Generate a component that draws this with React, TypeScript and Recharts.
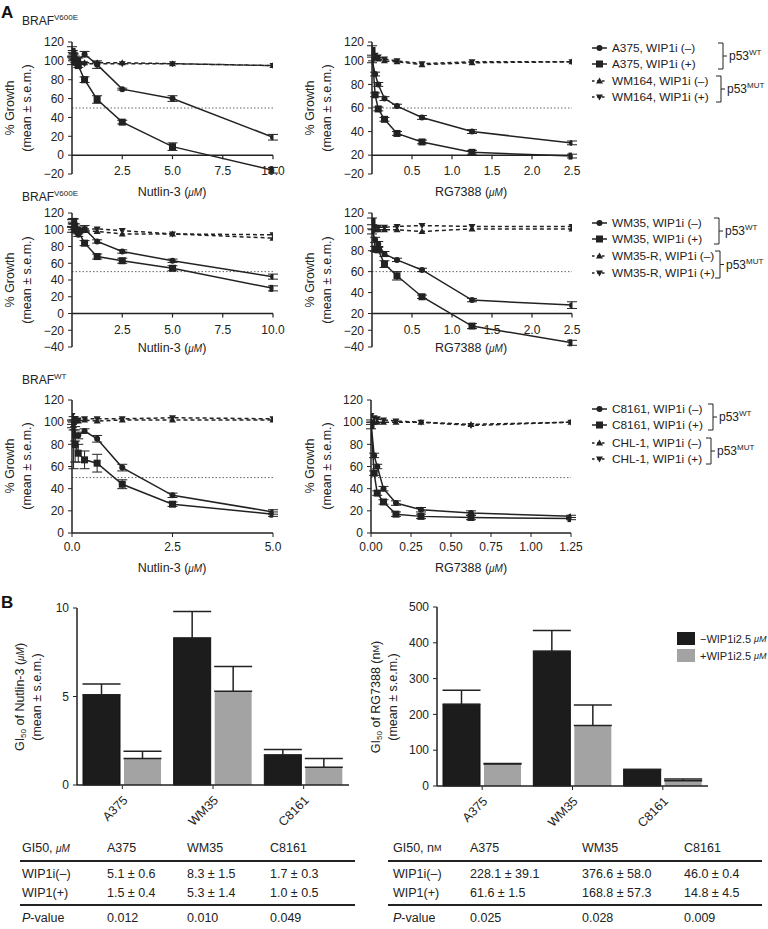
import React from "react";
import { LineChart, Line, XAxis, YAxis, ReferenceLine, ErrorBar, BarChart, Bar } from "recharts";

const FONT = '"Liberation Sans", Arial, Helvetica, sans-serif';
const INK = "#222";

// ---- panel A, row 1: BRAF V600E, A375 (p53 WT) vs WM164 (p53 MUT)
const nutDose1 = [0, 0.039, 0.078, 0.156, 0.3125, 0.625, 1.25, 2.5, 5, 10];
const a375NutMinus = [100, 106, 105, 103, 101, 107, 96, 70, 60, 19];
const a375NutMinusErr = [4, 3, 3, 2, 2, 3, 4, 1, 3, 3];
const a375NutPlus = [110, 108, 104, 100, 95, 80, 59, 35, 9, -16];
const a375NutPlusErr = [5, 3, 3, 2, 2, 3, 4, 2, 4, 3];
const wm164NutMinus = [100, 99, 99, 98, 98, 98, 98, 98, 97, 95];
const wm164NutPlus = [103, 100, 98, 97, 97, 97, 97, 97, 97, 95];

const rgDose1 = [0, 0.039, 0.078, 0.156, 0.3125, 0.625, 1.25, 2.5];
const a375RgMinus = [101, 86, 75, 60, 52, 40, 25, 13];
const a375RgMinusErr = [3, 2, 2, 2, 2, 2, 2, 2];
const a375RgPlus = [111, 64, 49, 38, 23, 14, 3, -1];
const a375RgPlusErr = [5, 2, 2, 2, 2, 2, 2, 2];
const wm164RgMinus = [104, 103, 102, 100, 99, 96, 98, 99];
const wm164RgPlus = [108, 106, 104, 102, 100, 97, 99, 99];

// ---- row 2: BRAF V600E, WM35 vs WM35-R
const nutDose2 = [0, 0.039, 0.078, 0.156, 0.3125, 0.625, 1.25, 2.5, 5, 10];
const wm35NutMinus = [100, 110, 110, 104, 94, 101, 86, 74, 63, 44];
const wm35NutMinusErr = [3, 3, 3, 3, 2, 4, 2, 2, 2, 3];
const wm35NutPlus = [108, 106, 110, 100, 98, 84, 68, 63, 54, 30];
const wm35NutPlusErr = [4, 3, 3, 3, 3, 3, 3, 3, 3, 3];
const wm35rNutMinus = [100, 100, 100, 99, 99, 99, 98, 95, 95, 90];
const wm35rNutPlus = [104, 103, 102, 102, 101, 101, 101, 99, 95, 94];

const rgDose2 = [0, 0.039, 0.078, 0.156, 0.3125, 0.625, 1.25, 2.5];
const wm35RgMinus = [98, 88, 83, 71, 64, 52, 16, 10];
const wm35RgMinusErr = [3, 3, 3, 3, 2, 2, 2, 4];
const wm35RgPlus = [110, 77, 76, 59, 45, 20, -15, -35];
const wm35RgPlusErr = [4, 3, 3, 4, 5, 2, 3, 3];
const wm35rRgMinus = [100, 100, 100, 100, 100, 98, 101, 101];
const wm35rRgPlus = [104, 103, 103, 103, 104, 105, 104, 104];

// ---- row 3: BRAF WT, C8161 vs CHL-1
const nutDose3 = [0, 0.039, 0.078, 0.156, 0.3125, 0.625, 1.25, 2.5, 5];
const c8161NutMinus = [100, 99, 88, 88, 92, 85, 59, 34, 19];
const c8161NutMinusErr = [2, 6, 5, 3, 2, 3, 3, 2, 2];
const c8161NutPlus = [98, 80, 80, 72, 66, 63, 44, 26, 17];
const c8161NutPlusErr = [3, 22, 16, 8, 8, 8, 4, 2, 2];
const chl1NutMinus = [102, 101, 101, 101, 102, 101, 102, 102, 102];
const chl1NutPlus = [106, 103, 103, 102, 103, 103, 103, 104, 103];

const rgDose3 = [0, 0.0195, 0.039, 0.078, 0.156, 0.3125, 0.625, 1.25];
const c8161RgMinus = [100, 70, 60, 40, 27, 21, 18, 15];
const c8161RgMinusErr = [2, 2, 2, 2, 2, 2, 2, 1];
const c8161RgPlus = [97, 54, 36, 28, 17, 15, 14, 13];
const c8161RgPlusErr = [3, 2, 2, 2, 2, 2, 2, 1];
const chl1RgMinus = [100, 100, 100, 100, 100, 100, 98, 100];
const chl1RgPlus = [106, 104, 103, 102, 101, 100, 97, 100];

// ---- axis ticks (the RG7388 panels carry shifted labels in the source)
const yTicks1 = [-20, 0, 20, 40, 60, 80, 100, 120];
const yTicks2 = [-40, -20, 0, 20, 40, 60, 80, 100, 120];
const yTicks3 = [0, 20, 40, 60, 80, 100, 120];
const rgYTicks1 = [-20, 0, 25, 50, 75, 100, 120];
const rgYLabels1 = ["−20", "20", "40", "60", "80", "100", "120"];
const rgYTicks2 = [-40, -20, 0, 25, 50, 75, 100, 120];
const rgYLabels2 = ["−40", "−20", "20", "40", "60", "80", "100", "120"];
const nutXTicks12 = [2.5, 5, 7.5, 10];
const rgXTicks12 = [0.5, 1, 1.5, 2, 2.5];
const nutXTicks3 = [0, 2.5, 5];
const rgXTicks3 = [0, 0.25, 0.5, 0.75, 1, 1.25];

// ---- panel B
const cellLines = ["A375", "WM35", "C8161"];
const nutGiMinus = [5.1, 8.3, 1.7];
const nutGiMinusSem = [0.6, 1.5, 0.3];
const nutGiPlus = [1.5, 5.3, 1.0];
const nutGiPlusSem = [0.4, 1.4, 0.5];
const nutPValues = ["0.012", "0.010", "0.049"];
const rgGiMinus = [228.1, 376.6, 46.0];
const rgGiMinusSem = [39.1, 58.0, 0.4];
const rgGiPlus = [61.6, 168.8, 14.8];
const rgGiPlusSem = [1.5, 57.3, 4.5];
const rgPValues = ["0.025", "0.028", "0.009"];

const legend1 = ["A375, WIP1i (–)", "A375, WIP1i (+)", "WM164, WIP1i (–)", "WM164, WIP1i (+)"];
const legend2 = ["WM35, WIP1i (–)", "WM35, WIP1i (+)", "WM35-R, WIP1i (–)", "WM35-R, WIP1i (+)"];
const legend3 = ["C8161, WIP1i (–)", "C8161, WIP1i (+)", "CHL-1, WIP1i (–)", "CHL-1, WIP1i (+)"];

type MarkerKind = "circle" | "square" | "up" | "down";
const MARKERS: MarkerKind[] = ["circle", "square", "up", "down"];

function Marker({ kind, cx, cy }: { kind: MarkerKind; cx: number; cy: number }) {
  if (kind === "circle") return <circle cx={cx} cy={cy} r={3} fill={INK} />;
  if (kind === "square") return <rect x={cx - 3.5} y={cy - 3.5} width={7} height={7} fill={INK} />;
  if (kind === "up") return <path d={`M${cx},${cy - 3.5}L${cx + 3.5},${cy + 2.5}L${cx - 3.5},${cy + 2.5}Z`} fill={INK} />;
  return <path d={`M${cx},${cy + 3.5}L${cx + 3.5},${cy - 2.5}L${cx - 3.5},${cy - 2.5}Z`} fill={INK} />;
}

const dotOf = (kind: MarkerKind) => (p: any) => {
  if (p.cx == null || p.cy == null) return <g key={p.index} />;
  return (
    <g key={p.index}>
      <Marker kind={kind} cx={p.cx} cy={p.cy} />
    </g>
  );
};

const minusFmt = (v: number) => String(v).replace("-", "−");
const lookupFmt = (ticks: number[], labels: string[]) => (v: number) => labels[ticks.indexOf(v)] ?? "";

// x tick drawn on the zero line rather than the plot bottom
const ZeroTick = (props: any) => {
  const { x, y, payload, lift, fmt } = props;
  const zy = y - lift;
  return (
    <g>
      <line x1={x} x2={x} y1={zy} y2={zy + 4} stroke={INK} strokeWidth={1.2} />
      <text x={x} y={zy + 20} textAnchor="middle" fontSize={12} fill={INK} fontFamily={FONT}>
        {fmt(payload.value)}
      </text>
    </g>
  );
};

type Series = { key: string; err?: string; dashed?: boolean; kind: MarkerKind };

function LinePanel(props: {
  plotLeft: number;
  plotTop: number;
  plotW: number;
  plotH: number;
  data: any[];
  series: Series[];
  xDomain: [number, number];
  xTicks: number[];
  xFmt: (v: number) => string;
  yDomain: [number, number];
  yTicks: number[];
  yFmt: (v: number) => string;
  zeroAxis: boolean;
}) {
  const { plotLeft, plotTop, plotW, plotH, data, series, xDomain, xTicks, xFmt, yDomain, yTicks, yFmt, zeroAxis } = props;
  const yw = 45;
  const mt = 6;
  const mr = 14;
  const xh = 30;
  const lift = zeroAxis ? (plotH * (0 - yDomain[0])) / (yDomain[1] - yDomain[0]) : 0;
  return (
    <div style={{ position: "absolute", left: plotLeft - yw, top: plotTop - mt }}>
      <LineChart width={yw + plotW + mr} height={mt + plotH + xh} data={data} margin={{ top: mt, right: mr, bottom: 0, left: 0 }}>
        {zeroAxis ? (
          <XAxis
            dataKey="dose"
            type="number"
            domain={xDomain}
            ticks={xTicks}
            interval={0}
            allowDataOverflow
            height={xh}
            axisLine={false}
            tickLine={false}
            tickSize={0}
            tickMargin={0}
            tick={<ZeroTick lift={lift} fmt={xFmt} />}
          />
        ) : (
          <XAxis
            dataKey="dose"
            type="number"
            domain={xDomain}
            ticks={xTicks}
            interval={0}
            allowDataOverflow
            height={xh}
            axisLine={{ stroke: INK, strokeWidth: 1.5 }}
            tickLine={{ stroke: INK }}
            tickSize={4}
            tickMargin={5}
            tick={{ fontSize: 12, fill: INK, fontFamily: FONT }}
            tickFormatter={xFmt}
          />
        )}
        <YAxis
          type="number"
          domain={yDomain}
          ticks={yTicks}
          interval={0}
          allowDataOverflow
          width={yw}
          axisLine={{ stroke: INK, strokeWidth: 1.5 }}
          tickLine={{ stroke: INK }}
          tickSize={4}
          tickMargin={4}
          tick={{ fontSize: 12, fill: INK, fontFamily: FONT }}
          tickFormatter={yFmt}
        />
        <ReferenceLine y={50} stroke="#666" strokeWidth={1} strokeDasharray="1.5 2" />
        {zeroAxis && <ReferenceLine y={0} stroke={INK} strokeWidth={1.5} />}
        {series.map((s) => (
          <Line
            key={s.key}
            dataKey={s.key}
            type="linear"
            stroke={INK}
            strokeWidth={1.5}
            strokeDasharray={s.dashed ? "4 3" : undefined}
            dot={dotOf(s.kind)}
            activeDot={false}
            isAnimationActive={false}
          >
            {s.err && <ErrorBar dataKey={s.err} width={5} stroke={INK} strokeWidth={1} direction="y" />}
          </Line>
        ))}
      </LineChart>
    </div>
  );
}

const CatTick = (props: any) => {
  const { x, y, payload } = props;
  const ax = x + 6;
  const ay = y + 10;
  return (
    <text x={ax} y={ay} transform={`rotate(-45 ${ax} ${ay})`} textAnchor="end" fontSize={12.5} fill={INK} fontFamily={FONT}>
      {payload.value}
    </text>
  );
};

function GiBars(props: { plotLeft: number; plotTop: number; plotW: number; plotH: number; data: any[]; yMax: number; yTicks: number[] }) {
  const { plotLeft, plotTop, plotW, plotH, data, yMax, yTicks } = props;
  const yw = 45;
  const mt = 8;
  const mr = 10;
  const xh = 50;
  return (
    <div style={{ position: "absolute", left: plotLeft - yw, top: plotTop - mt }}>
      <BarChart
        width={yw + plotW + mr}
        height={mt + plotH + xh}
        data={data}
        margin={{ top: mt, right: mr, bottom: 0, left: 0 }}
        barCategoryGap={6}
        barGap={4}
      >
        <XAxis
          dataKey="cell"
          height={xh}
          interval={0}
          axisLine={{ stroke: INK, strokeWidth: 1.5 }}
          tickLine={{ stroke: INK }}
          tickSize={4}
          tick={<CatTick />}
        />
        <YAxis
          type="number"
          domain={[0, yMax]}
          ticks={yTicks}
          interval={0}
          width={yw}
          axisLine={{ stroke: INK, strokeWidth: 1.5 }}
          tickLine={{ stroke: INK }}
          tickSize={4}
          tickMargin={4}
          tick={{ fontSize: 12, fill: INK, fontFamily: FONT }}
        />
        <Bar dataKey="minus" fill="#1c1c1c" stroke="#111" isAnimationActive={false}>
          <ErrorBar dataKey="minusErr" width={19} stroke={INK} strokeWidth={1.5} direction="y" />
        </Bar>
        <Bar dataKey="plus" fill="#a3a3a3" isAnimationActive={false}>
          <ErrorBar dataKey="plusErr" width={19} stroke={INK} strokeWidth={1.5} direction="y" />
        </Bar>
      </BarChart>
    </div>
  );
}

const rows = (dose: number[], cols: Record<string, number[]>) =>
  dose.map((d, i) => {
    const r: Record<string, number> = { dose: d };
    for (const k of Object.keys(cols)) r[k] = cols[k][i];
    return r;
  });

const barRows = (m: number[], me: number[], p: number[], pe: number[]) =>
  cellLines.map((c, i) => ({ cell: c, minus: m[i], minusErr: [0, me[i]], plus: p[i], plusErr: [0, pe[i]] }));

const SERIES: Series[] = [
  { key: "m", err: "me", kind: "circle" },
  { key: "p", err: "pe", kind: "square" },
  { key: "rm", dashed: true, kind: "up" },
  { key: "rp", dashed: true, kind: "down" },
];

function GrowthLabel({ x, cy }: { x: number; cy: number }) {
  return (
    <g fontSize={12.5} fill={INK}>
      <text transform={`translate(${x},${cy}) rotate(-90)`} textAnchor="middle" dominantBaseline="central">
        % Growth
      </text>
      <text transform={`translate(${x + 17},${cy}) rotate(-90)`} textAnchor="middle" dominantBaseline="central">
        (mean ± s.e.m.)
      </text>
    </g>
  );
}

function AxisTitle({ x, y, drug }: { x: number; y: number; drug: string }) {
  return (
    <text x={x} y={y} textAnchor="middle" dominantBaseline="central" fontSize={12.5} fill={INK}>
      {drug} (<tspan fontStyle="italic" fontSize={10}>μM</tspan>)
    </text>
  );
}

function Braf({ x, y, sup }: { x: number; y: number; sup: string }) {
  return (
    <text x={x} y={y} fontSize={12} fill={INK}>
      BRAF
      <tspan fontSize={8} dy={-5}>
        {sup}
      </tspan>
    </text>
  );
}

function Bracket({ x, y1, y2, label }: { x: number; y1: number; y2: number; label: string }) {
  const ym = (y1 + y2) / 2;
  return (
    <g>
      <path d={`M${x},${y1}H${x + 5}V${y2}H${x}M${x + 5},${ym}H${x + 9}`} fill="none" stroke={INK} strokeWidth={1} />
      <text x={x + 11} y={ym + 4} fontSize={12} fill={INK}>
        p53
        <tspan fontSize={8} dy={-5}>
          {label}
        </tspan>
      </text>
    </g>
  );
}

function SeriesLegend({ ys, labels, wtX, mutX }: { ys: number[]; labels: string[]; wtX: number; mutX: number }) {
  return (
    <g>
      {labels.map((l, i) => (
        <g key={l}>
          <line x1={592} x2={607} y1={ys[i]} y2={ys[i]} stroke={INK} strokeWidth={1.5} strokeDasharray={i > 1 ? "2.5 2.5" : undefined} />
          <Marker kind={MARKERS[i]} cx={599.5} cy={ys[i]} />
          <text x={612} y={ys[i]} dominantBaseline="central" fontSize={11.8} fill={INK}>
            {l}
          </text>
        </g>
      ))}
      <Bracket x={wtX} y1={ys[0] - 5} y2={ys[1] + 5} label="WT" />
      <Bracket x={mutX} y1={ys[2] - 5} y2={ys[3] + 5} label="MUT" />
    </g>
  );
}

function GiTable(props: { cols: number[]; x1: number; x2: number; unit: React.ReactNode; m: number[]; me: number[]; p: number[]; pe: number[]; pv: string[] }) {
  const { cols, x1, x2, unit, m, me, p, pe, pv } = props;
  const fmt = (v: number, e: number) => `${v.toFixed(1)} ± ${e.toFixed(1)}`;
  const rowsY = [848, 874, 893, 918];
  const cells: React.ReactNode[][] = [
    [<tspan key="u">GI50, {unit}</tspan>, ...cellLines],
    ["WIP1i(–)", ...m.map((v, i) => fmt(v, me[i]))],
    ["WIP1(+)", ...p.map((v, i) => fmt(v, pe[i]))],
    [<tspan key="pv"><tspan fontStyle="italic">P</tspan>-value</tspan>, ...pv],
  ];
  return (
    <g fontSize={12.5} fill={INK}>
      {cells.map((r, ri) =>
        r.map((c, ci) => (
          <text key={`${ri}-${ci}`} x={cols[ci]} y={rowsY[ri]} dominantBaseline="central">
            {c}
          </text>
        ))
      )}
      <line x1={x1} x2={x2} y1={861} y2={861} stroke={INK} strokeWidth={1.8} />
      <line x1={x1} x2={x2} y1={905} y2={905} stroke={INK} strokeWidth={1.8} />
    </g>
  );
}

export default function App() {
  const d1n = rows(nutDose1, { m: a375NutMinus, me: a375NutMinusErr, p: a375NutPlus, pe: a375NutPlusErr, rm: wm164NutMinus, rp: wm164NutPlus });
  const d1r = rows(rgDose1, { m: a375RgMinus, me: a375RgMinusErr, p: a375RgPlus, pe: a375RgPlusErr, rm: wm164RgMinus, rp: wm164RgPlus });
  const d2n = rows(nutDose2, { m: wm35NutMinus, me: wm35NutMinusErr, p: wm35NutPlus, pe: wm35NutPlusErr, rm: wm35rNutMinus, rp: wm35rNutPlus });
  const d2r = rows(rgDose2, { m: wm35RgMinus, me: wm35RgMinusErr, p: wm35RgPlus, pe: wm35RgPlusErr, rm: wm35rRgMinus, rp: wm35rRgPlus });
  const d3n = rows(nutDose3, { m: c8161NutMinus, me: c8161NutMinusErr, p: c8161NutPlus, pe: c8161NutPlusErr, rm: chl1NutMinus, rp: chl1NutPlus });
  const d3r = rows(rgDose3, { m: c8161RgMinus, me: c8161RgMinusErr, p: c8161RgPlus, pe: c8161RgPlusErr, rm: chl1RgMinus, rp: chl1RgPlus });

  const f1 = (v: number) => v.toFixed(1);
  const f2 = (v: number) => v.toFixed(2);

  return (
    <div style={{ position: "absolute", left: 0, top: 0, width: 768, height: 929, background: "#fff", fontFamily: FONT, overflow: "hidden" }}>
      <style>{`.recharts-surface{overflow:visible}`}</style>

      <LinePanel plotLeft={72} plotTop={42} plotW={201} plotH={132} data={d1n} series={SERIES}
        xDomain={[0, 10]} xTicks={nutXTicks12} xFmt={f1} yDomain={[-20, 120]} yTicks={yTicks1} yFmt={minusFmt} zeroAxis />
      <LinePanel plotLeft={372} plotTop={42} plotW={200} plotH={132} data={d1r} series={SERIES}
        xDomain={[0, 2.5]} xTicks={rgXTicks12} xFmt={f1} yDomain={[-20, 120]} yTicks={rgYTicks1} yFmt={lookupFmt(rgYTicks1, rgYLabels1)} zeroAxis />

      <LinePanel plotLeft={72} plotTop={213} plotW={201} plotH={134} data={d2n} series={SERIES}
        xDomain={[0, 10]} xTicks={nutXTicks12} xFmt={f1} yDomain={[-40, 120]} yTicks={yTicks2} yFmt={minusFmt} zeroAxis />
      <LinePanel plotLeft={372} plotTop={213} plotW={200} plotH={134} data={d2r} series={SERIES}
        xDomain={[0, 2.5]} xTicks={rgXTicks12} xFmt={f1} yDomain={[-40, 120]} yTicks={rgYTicks2} yFmt={lookupFmt(rgYTicks2, rgYLabels2)} zeroAxis />

      <LinePanel plotLeft={72} plotTop={400} plotW={201} plotH={133} data={d3n} series={SERIES}
        xDomain={[0, 5]} xTicks={nutXTicks3} xFmt={f1} yDomain={[0, 120]} yTicks={yTicks3} yFmt={minusFmt} zeroAxis={false} />
      <LinePanel plotLeft={371} plotTop={400} plotW={200} plotH={133} data={d3r} series={SERIES}
        xDomain={[0, 1.25]} xTicks={rgXTicks3} xFmt={f2} yDomain={[0, 120]} yTicks={yTicks3} yFmt={minusFmt} zeroAxis={false} />

      <GiBars plotLeft={77} plotTop={608} plotW={272} plotH={177} data={barRows(nutGiMinus, nutGiMinusSem, nutGiPlus, nutGiPlusSem)} yMax={10} yTicks={[0, 5, 10]} />
      <GiBars plotLeft={437} plotTop={607} plotW={271} plotH={179} data={barRows(rgGiMinus, rgGiMinusSem, rgGiPlus, rgGiPlusSem)} yMax={500} yTicks={[0, 100, 200, 300, 400, 500]} />

      <svg width={768} height={929} style={{ position: "absolute", left: 0, top: 0, pointerEvents: "none" }} fontFamily={FONT}>
        <text x={1} y={18} fontSize={17} fontWeight="bold" fill="#111">A</text>
        <text x={1} y={608} fontSize={17} fontWeight="bold" fill="#111">B</text>

        <Braf x={22} y={25} sup="V600E" />
        <Braf x={22} y={201} sup="V600E" />
        <Braf x={22} y={384} sup="WT" />

        <GrowthLabel x={10} cy={108} />
        <GrowthLabel x={310} cy={108} />
        <GrowthLabel x={10} cy={280} />
        <GrowthLabel x={310} cy={280} />
        <GrowthLabel x={10} cy={466} />
        <GrowthLabel x={310} cy={466} />

        <AxisTitle x={172} y={192} drug="Nutlin-3" />
        <AxisTitle x={471} y={192} drug="RG7388" />
        <AxisTitle x={172} y={348} drug="Nutlin-3" />
        <AxisTitle x={471} y={348} drug="RG7388" />
        <AxisTitle x={172} y={568} drug="Nutlin-3" />
        <AxisTitle x={471} y={568} drug="RG7388" />

        <SeriesLegend ys={[48, 64, 81, 97]} labels={legend1} wtX={718} mutX={716} />
        <SeriesLegend ys={[223, 239, 256, 273]} labels={legend2} wtX={714} mutX={715} />
        <SeriesLegend ys={[409, 425, 443, 459]} labels={legend3} wtX={708} mutX={706} />

        <g fontSize={12.5} fill={INK}>
          <text transform="translate(20,697) rotate(-90)" textAnchor="middle" dominantBaseline="central">
            GI<tspan fontSize={8} dy={3}>50</tspan><tspan dy={-3}> of Nutlin-3 (</tspan><tspan fontStyle="italic" fontSize={10}>μM</tspan>)
          </text>
          <text transform="translate(37,697) rotate(-90)" textAnchor="middle" dominantBaseline="central">(mean ± s.e.m.)</text>
          <text transform="translate(376,697) rotate(-90)" textAnchor="middle" dominantBaseline="central">
            GI<tspan fontSize={8} dy={3}>50</tspan><tspan dy={-3}> of RG7388 (n</tspan><tspan fontSize={9}>M</tspan>)
          </text>
          <text transform="translate(393,697) rotate(-90)" textAnchor="middle" dominantBaseline="central">(mean ± s.e.m.)</text>
        </g>

        <rect x={677} y={632} width={18} height={13} fill="#1c1c1c" />
        <rect x={677} y={649} width={18} height={13} fill="#a3a3a3" />
        <text x={700} y={639} dominantBaseline="central" fontSize={11} fill={INK}>
          −WIP1i2.5 <tspan fontStyle="italic" fontSize={9}>μM</tspan>
        </text>
        <text x={700} y={656} dominantBaseline="central" fontSize={11} fill={INK}>
          +WIP1i2.5 <tspan fontStyle="italic" fontSize={9}>μM</tspan>
        </text>

        <GiTable cols={[22, 107, 187, 270]} x1={20} x2={355} unit={<tspan fontStyle="italic" fontSize={10}>μM</tspan>}
          m={nutGiMinus} me={nutGiMinusSem} p={nutGiPlus} pe={nutGiPlusSem} pv={nutPValues} />
        <GiTable cols={[393, 470, 582, 684]} x1={388} x2={762} unit={<tspan>n<tspan fontSize={9}>M</tspan></tspan>}
          m={rgGiMinus} me={rgGiMinusSem} p={rgGiPlus} pe={rgGiPlusSem} pv={rgPValues} />
      </svg>
    </div>
  );
}
